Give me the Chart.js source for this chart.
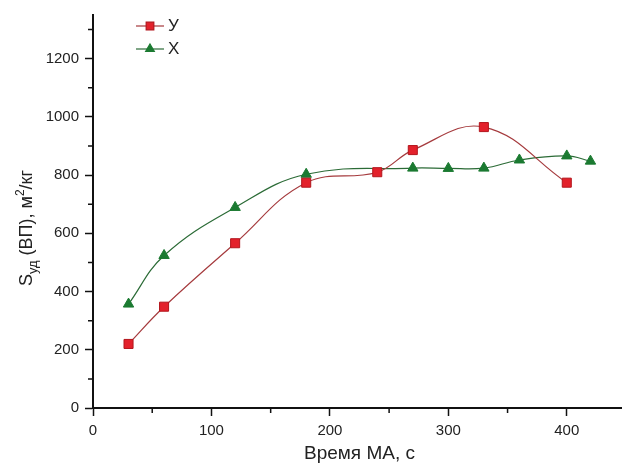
<!DOCTYPE html>
<html>
<head>
<meta charset="utf-8">
<script src="https://cdn.jsdelivr.net/npm/chart.js@4.4.0/dist/chart.umd.min.js"></script>
<style>
  html, body { margin: 0; padding: 0; background: #fff; overflow: hidden; }
  #wrap { width: 640px; height: 469px; }
</style>
</head>
<body>
<div id="wrap"><canvas id="chart"></canvas></div>
<script>
// time of mechanical activation, s  ->  specific surface, m2/kg
const timeU = [30, 60, 120, 180, 240, 270, 330, 400];
const areaU = [220, 348, 566, 774, 810, 886, 965, 774];
const timeX = [30, 60, 120, 180, 270, 300, 330, 360, 400, 420];
const areaX = [357, 524, 689, 803, 824, 823, 824, 852, 866, 848];

const xMajor = [0, 100, 200, 300, 400];
const xMinor = [50, 150, 250, 350, 450];
const yMajor = [0, 200, 400, 600, 800, 1000, 1200];
const yMinor = [100, 300, 500, 700, 900, 1100, 1300];

const FONT = '"Liberation Sans", Arial, sans-serif';
const INK = '#111';
const TEXT = '#222';
const RED = '#e3212b';
const RED_EDGE = '#b3161d';
const RED_LINE = '#a53a3d';
const GREEN = '#1b7a31';
const GREEN_LINE = '#2b6b36';

const toPoints = (xs, ys) => xs.map((x, i) => ({ x, y: ys[i] }));

// short ticks between the labelled ones
const minorTicks = {
  id: 'minorTicks',
  afterDraw(chart) {
    const { ctx, scales: { x, y } } = chart;
    ctx.save();
    ctx.strokeStyle = INK;
    ctx.lineWidth = 1.5;
    ctx.beginPath();
    xMinor.forEach(v => {
      const px = x.getPixelForValue(v);
      ctx.moveTo(px, x.top);
      ctx.lineTo(px, x.top + 5);
    });
    yMinor.forEach(v => {
      const py = y.getPixelForValue(v);
      ctx.moveTo(y.right, py);
      ctx.lineTo(y.right - 5, py);
    });
    ctx.stroke();
    ctx.restore();
  }
};

// y title with sub/superscripts
const yTitle = {
  id: 'yTitle',
  afterDraw(chart) {
    const ctx = chart.ctx;
    const parts = [
      { t: 'S', size: 18, dy: 0 },
      { t: 'уд', size: 13, dy: 5 },
      { t: ' (ВП), м', size: 18, dy: 0 },
      { t: '2', size: 12, dy: -8 },
      { t: '/кг', size: 18, dy: 0 },
    ];
    ctx.save();
    ctx.fillStyle = TEXT;
    ctx.textBaseline = 'alphabetic';
    let total = 0;
    parts.forEach(p => {
      ctx.font = p.size + 'px ' + FONT;
      p.w = ctx.measureText(p.t).width;
      total += p.w;
    });
    ctx.translate(32, 228);
    ctx.rotate(-Math.PI / 2);
    let cx = -total / 2;
    parts.forEach(p => {
      ctx.font = p.size + 'px ' + FONT;
      ctx.fillText(p.t, cx, p.dy);
      cx += p.w;
    });
    ctx.restore();
  }
};

// legend: line + marker + name, in the upper left of the plot
const legendBox = {
  id: 'legendBox',
  afterDraw(chart) {
    const ctx = chart.ctx;
    ctx.save();
    chart.data.datasets.forEach((ds, i) => {
      const cy = 26 + i * 23;
      ctx.strokeStyle = ds.borderColor;
      ctx.lineWidth = 1.2;
      ctx.beginPath();
      ctx.moveTo(136, cy);
      ctx.lineTo(164, cy);
      ctx.stroke();
      ctx.fillStyle = ds.pointBackgroundColor;
      ctx.strokeStyle = ds.pointBorderColor;
      Chart.helpers.drawPoint(ctx, {
        pointStyle: ds.pointStyle,
        radius: ds.pointRadius - 1,
        borderWidth: 1,
        rotation: 0
      }, 150, cy);
      ctx.fillStyle = TEXT;
      ctx.font = '17px ' + FONT;
      ctx.textBaseline = 'middle';
      ctx.fillText(ds.label, 168, cy);
    });
    ctx.restore();
  }
};

new Chart(document.getElementById('chart'), {
  type: 'line',
  data: {
    datasets: [
      {
        label: 'У',
        data: toPoints(timeU, areaU),
        borderColor: RED_LINE,
        borderWidth: 1.2,
        tension: 0.4,
        pointStyle: 'rect',
        pointRadius: 6.4,
        pointBackgroundColor: RED,
        pointBorderColor: RED_EDGE,
        pointBorderWidth: 1,
        fill: false
      },
      {
        label: 'Х',
        data: toPoints(timeX, areaX),
        borderColor: GREEN_LINE,
        borderWidth: 1.2,
        tension: 0.4,
        pointStyle: 'triangle',
        pointRadius: 6,
        pointBackgroundColor: GREEN,
        pointBorderColor: GREEN,
        pointBorderWidth: 1,
        fill: false
      }
    ]
  },
  options: {
    responsive: true,
    maintainAspectRatio: false,
    animation: false,
    layout: { padding: { top: 15, right: 14, left: 0, bottom: 0 } },
    plugins: {
      legend: { display: false },
      tooltip: { enabled: false }
    },
    scales: {
      x: {
        type: 'linear',
        min: 0,
        max: 450,
        afterBuildTicks: s => { s.ticks = xMajor.map(v => ({ value: v })); },
        afterFit: s => { s.height = 61; },
        border: { color: INK, width: 2 },
        grid: { drawOnChartArea: false, tickLength: 8, tickColor: INK, tickWidth: 1.5 },
        ticks: {
          padding: 6,
          color: TEXT,
          font: { family: FONT, size: 15 },
          maxRotation: 0,
          autoSkip: false,
          callback: v => String(v)
        },
        title: {
          display: true,
          text: 'Время МА, с',
          color: TEXT,
          font: { family: FONT, size: 19 },
          padding: { top: 0, bottom: 4 }
        }
      },
      y: {
        type: 'linear',
        min: 0,
        max: 1350,
        afterBuildTicks: s => { s.ticks = yMajor.map(v => ({ value: v })); },
        afterFit: s => { s.width = 93; },
        border: { color: INK, width: 2 },
        grid: { drawOnChartArea: false, tickLength: 8, tickColor: INK, tickWidth: 1.5 },
        ticks: {
          padding: 6,
          color: TEXT,
          font: { family: FONT, size: 15 },
          autoSkip: false,
          callback: v => String(v)
        }
      }
    }
  },
  plugins: [minorTicks, yTitle, legendBox]
});
</script>
</body>
</html>
